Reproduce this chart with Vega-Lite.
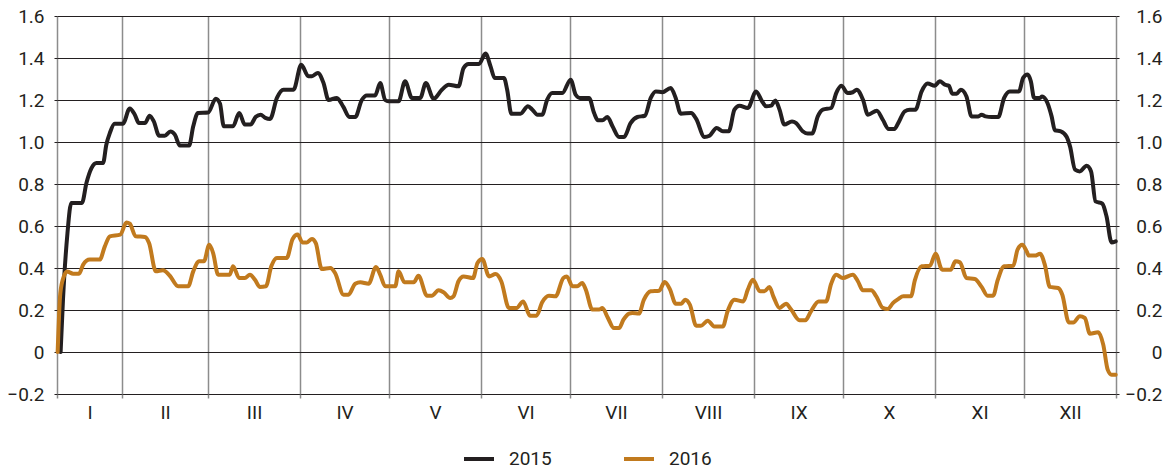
{
 "$schema": "https://vega.github.io/schema/vega-lite/v6.json",
 "width": 1059,
 "height": 378,
 "autosize": {"type": "none"},
 "padding": {"left": 57, "top": 16, "right": 53, "bottom": 78},
 "background": "white",
 "config": {
  "view": {"stroke": null},
  "font": "Roboto",
  "axis": {"labelFont": "Roboto", "labelFontSize": 19, "labelColor": "#231f20", "title": null}
 },
 "datasets": {
  "d": [
   {"year":"2015","day":10.3,"value":0},
   {"year":"2015","day":11.1,"value":0.25},
   {"year":"2015","day":12.6,"value":0.565},
   {"year":"2015","day":13.9,"value":0.71},
   {"year":"2015","day":17.5,"value":0.71},
   {"year":"2015","day":19.0,"value":0.805},
   {"year":"2015","day":20.7,"value":0.876},
   {"year":"2015","day":22.4,"value":0.9},
   {"year":"2015","day":24.6,"value":0.9},
   {"year":"2015","day":25.7,"value":0.987},
   {"year":"2015","day":26.9,"value":1.043},
   {"year":"2015","day":28.5,"value":1.087},
   {"year":"2015","day":31.3,"value":1.087},
   {"year":"2015","day":33.6,"value":1.16},
   {"year":"2015","day":35.3,"value":1.13},
   {"year":"2015","day":36.7,"value":1.09},
   {"year":"2015","day":38.7,"value":1.09},
   {"year":"2015","day":40.3,"value":1.125},
   {"year":"2015","day":41.7,"value":1.098},
   {"year":"2015","day":43.5,"value":1.03},
   {"year":"2015","day":45.4,"value":1.03},
   {"year":"2015","day":47.3,"value":1.05},
   {"year":"2015","day":48.8,"value":1.035},
   {"year":"2015","day":50.5,"value":0.983},
   {"year":"2015","day":53.6,"value":0.983},
   {"year":"2015","day":55.0,"value":1.075},
   {"year":"2015","day":56.6,"value":1.138},
   {"year":"2015","day":60.0,"value":1.14},
   {"year":"2015","day":62.6,"value":1.206},
   {"year":"2015","day":64.0,"value":1.183},
   {"year":"2015","day":65.3,"value":1.075},
   {"year":"2015","day":68.4,"value":1.075},
   {"year":"2015","day":70.5,"value":1.138},
   {"year":"2015","day":72.4,"value":1.083},
   {"year":"2015","day":74.3,"value":1.083},
   {"year":"2015","day":76.1,"value":1.12},
   {"year":"2015","day":77.7,"value":1.13},
   {"year":"2015","day":79.3,"value":1.115},
   {"year":"2015","day":80.9,"value":1.11},
   {"year":"2015","day":83.2,"value":1.21},
   {"year":"2015","day":85.4,"value":1.249},
   {"year":"2015","day":88.8,"value":1.249},
   {"year":"2015","day":91.4,"value":1.368},
   {"year":"2015","day":93.8,"value":1.313},
   {"year":"2015","day":95.0,"value":1.313},
   {"year":"2015","day":97.0,"value":1.329},
   {"year":"2015","day":98.9,"value":1.281},
   {"year":"2015","day":100.6,"value":1.2},
   {"year":"2015","day":103.4,"value":1.21},
   {"year":"2015","day":105.6,"value":1.167},
   {"year":"2015","day":107.6,"value":1.119},
   {"year":"2015","day":109.6,"value":1.119},
   {"year":"2015","day":111.8,"value":1.2},
   {"year":"2015","day":113.5,"value":1.222},
   {"year":"2015","day":116.3,"value":1.222},
   {"year":"2015","day":118.0,"value":1.281},
   {"year":"2015","day":119.7,"value":1.2},
   {"year":"2015","day":120.8,"value":1.194},
   {"year":"2015","day":124.2,"value":1.194},
   {"year":"2015","day":126.4,"value":1.289},
   {"year":"2015","day":128.7,"value":1.21},
   {"year":"2015","day":131.5,"value":1.21},
   {"year":"2015","day":133.4,"value":1.281},
   {"year":"2015","day":136.0,"value":1.206},
   {"year":"2015","day":138.8,"value":1.249},
   {"year":"2015","day":141.1,"value":1.273},
   {"year":"2015","day":144.4,"value":1.265},
   {"year":"2015","day":146.1,"value":1.352},
   {"year":"2015","day":147.8,"value":1.371},
   {"year":"2015","day":151.3,"value":1.371},
   {"year":"2015","day":153.5,"value":1.421},
   {"year":"2015","day":155.2,"value":1.36},
   {"year":"2015","day":156.6,"value":1.305},
   {"year":"2015","day":159.7,"value":1.305},
   {"year":"2015","day":160.8,"value":1.249},
   {"year":"2015","day":162.2,"value":1.135},
   {"year":"2015","day":165.3,"value":1.135},
   {"year":"2015","day":167.8,"value":1.17},
   {"year":"2015","day":169.3,"value":1.154},
   {"year":"2015","day":171.0,"value":1.13},
   {"year":"2015","day":172.6,"value":1.13},
   {"year":"2015","day":174.3,"value":1.202},
   {"year":"2015","day":176.0,"value":1.233},
   {"year":"2015","day":179.4,"value":1.233},
   {"year":"2015","day":182.2,"value":1.297},
   {"year":"2015","day":183.9,"value":1.225},
   {"year":"2015","day":185.3,"value":1.21},
   {"year":"2015","day":188.4,"value":1.21},
   {"year":"2015","day":190.1,"value":1.138},
   {"year":"2015","day":191.4,"value":1.103},
   {"year":"2015","day":192.9,"value":1.103},
   {"year":"2015","day":194.6,"value":1.119},
   {"year":"2015","day":196.3,"value":1.075},
   {"year":"2015","day":198.5,"value":1.024},
   {"year":"2015","day":200.2,"value":1.024},
   {"year":"2015","day":202.4,"value":1.09},
   {"year":"2015","day":204.7,"value":1.119},
   {"year":"2015","day":207.2,"value":1.125},
   {"year":"2015","day":209.2,"value":1.21},
   {"year":"2015","day":210.9,"value":1.241},
   {"year":"2015","day":213.1,"value":1.237},
   {"year":"2015","day":215.9,"value":1.257},
   {"year":"2015","day":217.6,"value":1.21},
   {"year":"2015","day":219.3,"value":1.135},
   {"year":"2015","day":222.8,"value":1.138},
   {"year":"2015","day":224.5,"value":1.11},
   {"year":"2015","day":227.3,"value":1.024},
   {"year":"2015","day":229.0,"value":1.03},
   {"year":"2015","day":231.4,"value":1.067},
   {"year":"2015","day":233.5,"value":1.051},
   {"year":"2015","day":235.5,"value":1.051},
   {"year":"2015","day":237.4,"value":1.154},
   {"year":"2015","day":239.1,"value":1.173},
   {"year":"2015","day":241.9,"value":1.162},
   {"year":"2015","day":244.7,"value":1.241},
   {"year":"2015","day":246.7,"value":1.194},
   {"year":"2015","day":248.1,"value":1.17},
   {"year":"2015","day":249.8,"value":1.173},
   {"year":"2015","day":251.2,"value":1.198},
   {"year":"2015","day":252.6,"value":1.154},
   {"year":"2015","day":254.2,"value":1.083},
   {"year":"2015","day":256.8,"value":1.098},
   {"year":"2015","day":258.2,"value":1.09},
   {"year":"2015","day":260.4,"value":1.051},
   {"year":"2015","day":262.1,"value":1.04},
   {"year":"2015","day":263.6,"value":1.04},
   {"year":"2015","day":265.5,"value":1.122},
   {"year":"2015","day":267.2,"value":1.154},
   {"year":"2015","day":270.0,"value":1.162},
   {"year":"2015","day":271.7,"value":1.233},
   {"year":"2015","day":273.4,"value":1.268},
   {"year":"2015","day":275.6,"value":1.233},
   {"year":"2015","day":277.3,"value":1.237},
   {"year":"2015","day":278.6,"value":1.249},
   {"year":"2015","day":280.7,"value":1.202},
   {"year":"2015","day":282.4,"value":1.13},
   {"year":"2015","day":285.4,"value":1.149},
   {"year":"2015","day":287.4,"value":1.106},
   {"year":"2015","day":289.4,"value":1.062},
   {"year":"2015","day":291.3,"value":1.062},
   {"year":"2015","day":292.6,"value":1.09},
   {"year":"2015","day":294.8,"value":1.146},
   {"year":"2015","day":296.5,"value":1.154},
   {"year":"2015","day":298.4,"value":1.154},
   {"year":"2015","day":300.5,"value":1.241},
   {"year":"2015","day":302.5,"value":1.278},
   {"year":"2015","day":304.9,"value":1.268},
   {"year":"2015","day":306.6,"value":1.289},
   {"year":"2015","day":308.3,"value":1.273},
   {"year":"2015","day":309.7,"value":1.268},
   {"year":"2015","day":310.8,"value":1.23},
   {"year":"2015","day":312.3,"value":1.23},
   {"year":"2015","day":313.7,"value":1.249},
   {"year":"2015","day":315.6,"value":1.217},
   {"year":"2015","day":317.3,"value":1.122},
   {"year":"2015","day":319.6,"value":1.122},
   {"year":"2015","day":320.7,"value":1.13},
   {"year":"2015","day":322.0,"value":1.122},
   {"year":"2015","day":324.1,"value":1.119},
   {"year":"2015","day":326.3,"value":1.119},
   {"year":"2015","day":328.3,"value":1.21},
   {"year":"2015","day":330.2,"value":1.241},
   {"year":"2015","day":333.3,"value":1.241},
   {"year":"2015","day":334.7,"value":1.305},
   {"year":"2015","day":336.2,"value":1.321},
   {"year":"2015","day":337.3,"value":1.289},
   {"year":"2015","day":338.4,"value":1.21},
   {"year":"2015","day":340.4,"value":1.21},
   {"year":"2015","day":341.1,"value":1.217},
   {"year":"2015","day":342.9,"value":1.186},
   {"year":"2015","day":344.3,"value":1.122},
   {"year":"2015","day":345.4,"value":1.056},
   {"year":"2015","day":347.4,"value":1.051},
   {"year":"2015","day":349.4,"value":1.024},
   {"year":"2015","day":350.5,"value":0.979},
   {"year":"2015","day":352.2,"value":0.868},
   {"year":"2015","day":353.8,"value":0.86},
   {"year":"2015","day":356.1,"value":0.887},
   {"year":"2015","day":357.6,"value":0.86},
   {"year":"2015","day":359.1,"value":0.717},
   {"year":"2015","day":361.4,"value":0.706},
   {"year":"2015","day":362.8,"value":0.646},
   {"year":"2015","day":364.5,"value":0.522},
   {"year":"2015","day":365.9,"value":0.527},
   {"year":"2016","day":9.3,"value":0},
   {"year":"2016","day":10.2,"value":0.28},
   {"year":"2016","day":11.4,"value":0.36},
   {"year":"2016","day":12.5,"value":0.383},
   {"year":"2016","day":14.5,"value":0.373},
   {"year":"2016","day":16.5,"value":0.373},
   {"year":"2016","day":17.9,"value":0.416},
   {"year":"2016","day":20.1,"value":0.44},
   {"year":"2016","day":23.5,"value":0.44},
   {"year":"2016","day":25.2,"value":0.503},
   {"year":"2016","day":26.9,"value":0.551},
   {"year":"2016","day":30.4,"value":0.559},
   {"year":"2016","day":32.5,"value":0.617},
   {"year":"2016","day":33.6,"value":0.611},
   {"year":"2016","day":35.6,"value":0.551},
   {"year":"2016","day":38.7,"value":0.548},
   {"year":"2016","day":40.1,"value":0.519},
   {"year":"2016","day":42.4,"value":0.384},
   {"year":"2016","day":44.8,"value":0.389},
   {"year":"2016","day":47.1,"value":0.363},
   {"year":"2016","day":49.9,"value":0.313},
   {"year":"2016","day":53.3,"value":0.313},
   {"year":"2016","day":55.0,"value":0.384},
   {"year":"2016","day":57.0,"value":0.432},
   {"year":"2016","day":58.6,"value":0.432},
   {"year":"2016","day":60.4,"value":0.511},
   {"year":"2016","day":61.7,"value":0.471},
   {"year":"2016","day":63.4,"value":0.368},
   {"year":"2016","day":67.3,"value":0.368},
   {"year":"2016","day":68.4,"value":0.408},
   {"year":"2016","day":70.5,"value":0.352},
   {"year":"2016","day":72.4,"value":0.352},
   {"year":"2016","day":74.1,"value":0.368},
   {"year":"2016","day":75.8,"value":0.344},
   {"year":"2016","day":77.4,"value":0.31},
   {"year":"2016","day":79.5,"value":0.313},
   {"year":"2016","day":81.3,"value":0.408},
   {"year":"2016","day":83.2,"value":0.448},
   {"year":"2016","day":86.5,"value":0.448},
   {"year":"2016","day":88.5,"value":0.538},
   {"year":"2016","day":90.2,"value":0.559},
   {"year":"2016","day":91.8,"value":0.522},
   {"year":"2016","day":93.3,"value":0.522},
   {"year":"2016","day":95.0,"value":0.538},
   {"year":"2016","day":96.3,"value":0.519},
   {"year":"2016","day":98.3,"value":0.395},
   {"year":"2016","day":101.2,"value":0.4},
   {"year":"2016","day":102.8,"value":0.376},
   {"year":"2016","day":105.65,"value":0.273},
   {"year":"2016","day":107.3,"value":0.273},
   {"year":"2016","day":109.6,"value":0.325},
   {"year":"2016","day":111.3,"value":0.332},
   {"year":"2016","day":114.1,"value":0.325},
   {"year":"2016","day":116.6,"value":0.405},
   {"year":"2016","day":118.0,"value":0.368},
   {"year":"2016","day":119.7,"value":0.313},
   {"year":"2016","day":123.1,"value":0.313},
   {"year":"2016","day":124.2,"value":0.384},
   {"year":"2016","day":126.2,"value":0.332},
   {"year":"2016","day":129.3,"value":0.332},
   {"year":"2016","day":130.9,"value":0.363},
   {"year":"2016","day":133.8,"value":0.268},
   {"year":"2016","day":135.4,"value":0.268},
   {"year":"2016","day":137.7,"value":0.294},
   {"year":"2016","day":139.4,"value":0.284},
   {"year":"2016","day":141.6,"value":0.257},
   {"year":"2016","day":142.7,"value":0.265},
   {"year":"2016","day":144.4,"value":0.337},
   {"year":"2016","day":146.1,"value":0.36},
   {"year":"2016","day":149.3,"value":0.352},
   {"year":"2016","day":150.8,"value":0.424},
   {"year":"2016","day":152.4,"value":0.443},
   {"year":"2016","day":154.7,"value":0.36},
   {"year":"2016","day":156.9,"value":0.371},
   {"year":"2016","day":158.8,"value":0.337},
   {"year":"2016","day":161.4,"value":0.21},
   {"year":"2016","day":164.0,"value":0.21},
   {"year":"2016","day":166.2,"value":0.241},
   {"year":"2016","day":168.5,"value":0.173},
   {"year":"2016","day":170.7,"value":0.173},
   {"year":"2016","day":172.6,"value":0.237},
   {"year":"2016","day":174.9,"value":0.268},
   {"year":"2016","day":177.1,"value":0.265},
   {"year":"2016","day":179.7,"value":0.352},
   {"year":"2016","day":180.9,"value":0.36},
   {"year":"2016","day":182.8,"value":0.313},
   {"year":"2016","day":184.4,"value":0.313},
   {"year":"2016","day":186.1,"value":0.329},
   {"year":"2016","day":187.3,"value":0.297},
   {"year":"2016","day":189.5,"value":0.202},
   {"year":"2016","day":191.8,"value":0.202},
   {"year":"2016","day":192.9,"value":0.21},
   {"year":"2016","day":194.6,"value":0.167},
   {"year":"2016","day":196.8,"value":0.114},
   {"year":"2016","day":198.5,"value":0.114},
   {"year":"2016","day":200.0,"value":0.154},
   {"year":"2016","day":201.9,"value":0.183},
   {"year":"2016","day":203.0,"value":0.186},
   {"year":"2016","day":205.2,"value":0.183},
   {"year":"2016","day":206.9,"value":0.249},
   {"year":"2016","day":209.2,"value":0.289},
   {"year":"2016","day":212.0,"value":0.292},
   {"year":"2016","day":213.9,"value":0.333},
   {"year":"2016","day":215.7,"value":0.297},
   {"year":"2016","day":217.6,"value":0.23},
   {"year":"2016","day":219.5,"value":0.23},
   {"year":"2016","day":220.8,"value":0.249},
   {"year":"2016","day":222.4,"value":0.225},
   {"year":"2016","day":224.5,"value":0.125},
   {"year":"2016","day":226.1,"value":0.125},
   {"year":"2016","day":228.4,"value":0.149},
   {"year":"2016","day":230.6,"value":0.122},
   {"year":"2016","day":233.5,"value":0.122},
   {"year":"2016","day":235.1,"value":0.194},
   {"year":"2016","day":237.4,"value":0.249},
   {"year":"2016","day":240.4,"value":0.241},
   {"year":"2016","day":241.9,"value":0.297},
   {"year":"2016","day":243.6,"value":0.344},
   {"year":"2016","day":246.0,"value":0.289},
   {"year":"2016","day":247.5,"value":0.289},
   {"year":"2016","day":249.2,"value":0.31},
   {"year":"2016","day":250.5,"value":0.265},
   {"year":"2016","day":252.6,"value":0.21},
   {"year":"2016","day":254.8,"value":0.23},
   {"year":"2016","day":256.5,"value":0.202},
   {"year":"2016","day":259.3,"value":0.151},
   {"year":"2016","day":261.3,"value":0.151},
   {"year":"2016","day":263.2,"value":0.194},
   {"year":"2016","day":265.8,"value":0.241},
   {"year":"2016","day":268.3,"value":0.241},
   {"year":"2016","day":270.0,"value":0.325},
   {"year":"2016","day":271.7,"value":0.368},
   {"year":"2016","day":273.9,"value":0.352},
   {"year":"2016","day":277.3,"value":0.368},
   {"year":"2016","day":279.0,"value":0.337},
   {"year":"2016","day":280.7,"value":0.294},
   {"year":"2016","day":283.5,"value":0.294},
   {"year":"2016","day":285.2,"value":0.265},
   {"year":"2016","day":287.4,"value":0.21},
   {"year":"2016","day":289.1,"value":0.205},
   {"year":"2016","day":290.8,"value":0.233},
   {"year":"2016","day":292.6,"value":0.252},
   {"year":"2016","day":294.3,"value":0.265},
   {"year":"2016","day":296.9,"value":0.265},
   {"year":"2016","day":298.2,"value":0.341},
   {"year":"2016","day":300.5,"value":0.408},
   {"year":"2016","day":303.3,"value":0.411},
   {"year":"2016","day":305.2,"value":0.468},
   {"year":"2016","day":307.4,"value":0.392},
   {"year":"2016","day":310.3,"value":0.392},
   {"year":"2016","day":311.9,"value":0.432},
   {"year":"2016","day":313.4,"value":0.427},
   {"year":"2016","day":315.6,"value":0.352},
   {"year":"2016","day":318.4,"value":0.348},
   {"year":"2016","day":320.7,"value":0.31},
   {"year":"2016","day":322.7,"value":0.268},
   {"year":"2016","day":324.6,"value":0.268},
   {"year":"2016","day":326.1,"value":0.341},
   {"year":"2016","day":328.3,"value":0.408},
   {"year":"2016","day":331.4,"value":0.411},
   {"year":"2016","day":332.8,"value":0.487},
   {"year":"2016","day":334.4,"value":0.511},
   {"year":"2016","day":335.9,"value":0.479},
   {"year":"2016","day":336.6,"value":0.459},
   {"year":"2016","day":338.7,"value":0.459},
   {"year":"2016","day":340.4,"value":0.468},
   {"year":"2016","day":342.0,"value":0.416},
   {"year":"2016","day":343.7,"value":0.31},
   {"year":"2016","day":346.5,"value":0.305},
   {"year":"2016","day":347.9,"value":0.273},
   {"year":"2016","day":350.1,"value":0.141},
   {"year":"2016","day":351.6,"value":0.141},
   {"year":"2016","day":353.8,"value":0.17},
   {"year":"2016","day":355.5,"value":0.162},
   {"year":"2016","day":357.2,"value":0.087},
   {"year":"2016","day":360.0,"value":0.094},
   {"year":"2016","day":361.7,"value":0.035},
   {"year":"2016","day":363.2,"value":-0.084},
   {"year":"2016","day":364.5,"value":-0.108},
   {"year":"2016","day":365.9,"value":-0.108}
  ]
 },
 "data": {"name": "d"},
 "layer": [
  {
   "mark": {"type": "line", "strokeWidth": 4, "interpolate": "monotone", "strokeCap": "round", "strokeJoin": "round"},
   "encoding": {
    "x": {
     "field": "day", "type": "quantitative",
     "scale": {"domain": [9.08, 366], "nice": false, "zero": false},
     "axis": {"orient": "bottom", "values": [9.08, 31, 60, 91, 121, 152, 182, 213, 244, 274, 305, 335, 366], "grid": true, "gridColor": "#8c8c8c", "gridWidth": 1.5, "ticks": true, "tickColor": "#8c8c8c", "tickWidth": 1.5, "tickSize": 4, "labels": false, "domain": false}
    },
    "y": {
     "field": "value", "type": "quantitative",
     "scale": {"domain": [-0.2, 1.6], "nice": false, "zero": false},
     "axis": {"orient": "left", "values": [-0.2, 0, 0.2, 0.4, 0.6, 0.8, 1, 1.2, 1.4, 1.6], "grid": true, "gridColor": "#231f20", "gridWidth": 1.2, "domain": false, "ticks": true, "tickSize": 3, "tickColor": "#231f20", "labelPadding": 10, "labelExpr": "datum.value == 0 ? '0' : replace(format(datum.value, '.1f'), '-', '−')"}
    },
    "color": {
     "field": "year", "type": "nominal",
     "scale": {"domain": ["2015", "2016"], "range": ["#231f20", "#c17a1e"]},
     "legend": {"title": null, "orient": "none", "legendX": 405, "legendY": 426, "direction": "horizontal", "symbolType": "stroke", "symbolSize": 900, "symbolStrokeWidth": 4, "labelFontSize": 19, "labelFont": "Roboto", "labelColor": "#231f20", "labelOffset": 13, "columnPadding": 64, "padding": 0}
    }
   }
  },
  {
   "mark": {"type": "point", "opacity": 0},
   "encoding": {
    "x": {
     "field": "day", "type": "quantitative",
     "scale": {"domain": [9.08, 366], "nice": false, "zero": false},
     "axis": {"orient": "bottom", "values": [20.04, 45.5, 75.5, 106, 136.5, 167, 197.5, 228.5, 259, 289.5, 320, 350.5], "grid": false, "ticks": false, "domain": false, "labelPadding": 9, "labelExpr": "datum.value < 30 ? 'I' : datum.value < 60 ? 'II' : datum.value < 90 ? 'III' : datum.value < 120 ? 'IV' : datum.value < 150 ? 'V' : datum.value < 180 ? 'VI' : datum.value < 210 ? 'VII' : datum.value < 240 ? 'VIII' : datum.value < 270 ? 'IX' : datum.value < 300 ? 'X' : datum.value < 330 ? 'XI' : 'XII'"}
    },
    "y": {
     "field": "value", "type": "quantitative",
     "scale": {"domain": [-0.2, 1.6], "nice": false, "zero": false},
     "axis": {"orient": "right", "values": [-0.2, 0, 0.2, 0.4, 0.6, 0.8, 1, 1.2, 1.4, 1.6], "grid": false, "domain": false, "ticks": true, "tickSize": 3, "tickColor": "#231f20", "labelAlign": "right", "labelPadding": 43, "labelExpr": "datum.value == 0 ? '0' : replace(format(datum.value, '.1f'), '-', '−')"}
    }
   }
  }
 ],
 "resolve": {"axis": {"x": "independent", "y": "independent"}}
}
